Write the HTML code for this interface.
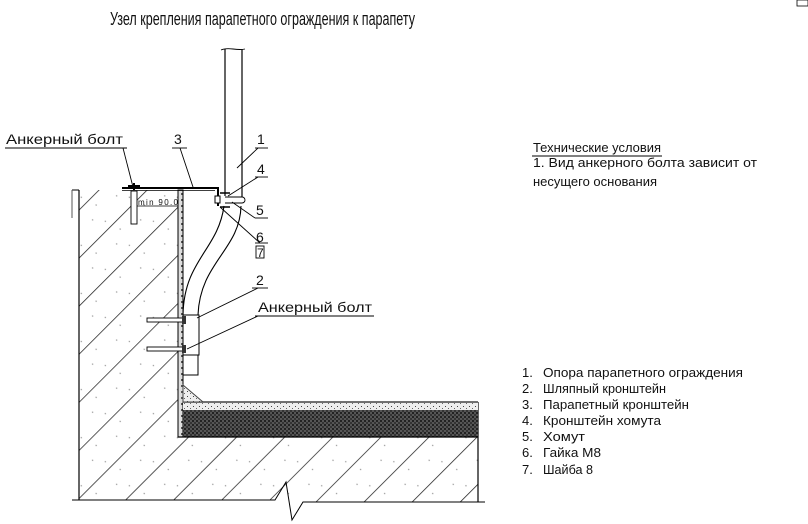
<!DOCTYPE html>
<html><head><meta charset="utf-8"><style>
html,body{margin:0;padding:0;background:#fff;}
svg{display:block;}
text{font-family:"Liberation Sans","DejaVu Sans",sans-serif;fill:#111;}
</style></head><body>
<svg width="808" height="524" viewBox="0 0 808 524" xmlns="http://www.w3.org/2000/svg">
<defs>
<pattern id="hatch" patternUnits="userSpaceOnUse" width="34" height="34" patternTransform="rotate(-45)">
<rect width="34" height="34" fill="#fff"/>
<line x1="0" y1="0" x2="34" y2="0" stroke="#222" stroke-width="1.6"/>
<circle cx="12" cy="17" r="0.7" fill="#999"/><circle cx="25" cy="9" r="0.7" fill="#999"/><circle cx="20" cy="27" r="0.7" fill="#999"/>
</pattern>
<pattern id="dark" patternUnits="userSpaceOnUse" width="4" height="4">
<rect width="4" height="4" fill="#555"/><rect width="2" height="2" fill="#222"/><rect x="2" y="2" width="2" height="2" fill="#333"/>
</pattern>
<pattern id="sand" patternUnits="userSpaceOnUse" width="6" height="5">
<rect width="6" height="5" fill="#eee"/><rect x="1" y="1" width="1" height="1" fill="#444"/><rect x="4" y="3" width="1" height="1" fill="#666"/>
</pattern>
<pattern id="ins" patternUnits="userSpaceOnUse" width="5" height="6">
<rect width="5" height="6" fill="#ddd"/><rect x="1" y="1" width="2" height="2" fill="#555"/>
</pattern>
</defs>

<!-- title -->
<text x="110" y="25" font-size="18" textLength="305" lengthAdjust="spacingAndGlyphs">Узел крепления парапетного ограждения к парапету</text>
<rect x="797" y="0" width="11" height="6" fill="none" stroke="#000" stroke-width="0.8"/>

<!-- concrete mass -->
<path d="M79 190 H178 V437 H478 V502 H303 L285 500 H79 Z" fill="url(#hatch)"/>
<line x1="79" y1="190" x2="79" y2="500" stroke="#000" stroke-width="1.2"/>
<line x1="478" y1="402" x2="478" y2="502" stroke="#000" stroke-width="1.2"/>
<line x1="72" y1="190" x2="79" y2="190" stroke="#000"/>
<line x1="72" y1="190" x2="72" y2="218" stroke="#555"/>
<!-- insulation strip -->
<rect x="178" y="190" width="5" height="247" fill="url(#ins)" stroke="#000" stroke-width="1"/>
<!-- floor layers -->
<rect x="183" y="402" width="295" height="8" fill="url(#sand)"/>
<line x1="183" y1="402" x2="478" y2="402" stroke="#444" stroke-width="1.5"/>
<rect x="183" y="410" width="295" height="27" fill="url(#dark)"/>
<line x1="178" y1="437" x2="478" y2="437" stroke="#000" stroke-width="1.2"/>
<path d="M183 385 L203 402 H183 Z" fill="url(#sand)" stroke="#444" stroke-width="1"/>
<!-- break line -->
<path d="M72 500 H275 L286 482 L292 520 L303 502 H485" fill="none" stroke="#000" stroke-width="1"/>

<!-- pole -->
<path d="M221 50 Q225 48 233 49 T245 49" fill="none" stroke="#000" stroke-width="0.9"/>
<line x1="225" y1="49" x2="225" y2="196" stroke="#000" stroke-width="1.2"/>
<line x1="242" y1="49" x2="242" y2="200" stroke="#000" stroke-width="1.2"/>
<path d="M224 206 C218 250 184 260 183 315" fill="none" stroke="#000" stroke-width="1.1"/>
<path d="M241 206 C240 250 200 262 198 315" fill="none" stroke="#000" stroke-width="1.1"/>
<!-- bracket 2 -->
<rect x="183" y="315" width="16" height="40" fill="#fff" stroke="#000"/>
<rect x="183" y="355" width="15" height="20" fill="#fff" stroke="#000"/>
<!-- wall anchors -->
<rect x="147" y="318" width="38" height="4" fill="#fff" stroke="#000" stroke-width="0.9"/>
<rect x="147" y="347" width="38" height="4" fill="#fff" stroke="#000" stroke-width="0.9"/>
<rect x="182" y="316" width="4" height="8" fill="#333"/>
<rect x="182" y="345" width="4" height="8" fill="#333"/>
<!-- cap plate -->
<path d="M122 188 H218 V206" fill="none" stroke="#000" stroke-width="2"/>
<line x1="122" y1="190.5" x2="215" y2="190.5" stroke="#000" stroke-width="0.8"/>
<!-- top anchor -->
<rect x="131" y="191" width="6" height="33" fill="#fff" stroke="#000" stroke-width="0.9"/>
<rect x="128" y="185" width="12" height="3" fill="#000"/>
<line x1="134" y1="183" x2="134" y2="190" stroke="#000" stroke-width="2"/>
<text x="138" y="205" font-size="8" textLength="40">min 90.0</text>
<line x1="137" y1="206" x2="178" y2="206" stroke="#000" stroke-width="0.7"/>
<!-- clamp -->
<rect x="215" y="196" width="5" height="7" fill="#fff" stroke="#000"/>
<line x1="220" y1="193" x2="230" y2="193" stroke="#000" stroke-width="1.5"/>
<line x1="220" y1="207" x2="230" y2="207" stroke="#000" stroke-width="1.5"/>
<path d="M225 197 H242 a3 3 0 0 1 0 6 H225" fill="#fff" stroke="#000" stroke-width="0.9"/>

<!-- leaders -->
<g stroke="#000" stroke-width="0.9" fill="none">
<line x1="5" y1="148" x2="127" y2="148"/><line x1="123" y1="148" x2="133" y2="187"/>
<line x1="172" y1="148" x2="187" y2="148"/><line x1="180" y1="148" x2="193" y2="187"/>
<line x1="255" y1="148" x2="268" y2="148"/><line x1="258" y1="148" x2="237" y2="168"/>
<line x1="255" y1="177" x2="268" y2="177"/><line x1="258" y1="177" x2="228" y2="196"/>
<line x1="255" y1="218" x2="268" y2="218"/><line x1="255" y1="218" x2="232" y2="202"/>
<line x1="255" y1="243" x2="268" y2="243"/><line x1="260" y1="243" x2="220" y2="207"/>
<line x1="252" y1="288" x2="268" y2="288"/><line x1="258" y1="288" x2="197" y2="318"/>
<line x1="255" y1="316" x2="374" y2="316"/><line x1="258" y1="316" x2="187" y2="349"/>
<rect x="256" y="246" width="8" height="12"/>
</g>
<g font-size="14">
<text x="6" y="144" textLength="117" lengthAdjust="spacingAndGlyphs">Анкерный болт</text>
<text x="174" y="144">3</text>
<text x="257" y="144">1</text>
<text x="257" y="174">4</text>
<text x="256" y="215">5</text>
<text x="256" y="242">6</text>
<text x="257" y="257" font-size="12">7</text>
<text x="256" y="285">2</text>
<text x="258" y="312" textLength="114" lengthAdjust="spacingAndGlyphs">Анкерный болт</text>
</g>

<!-- notes -->
<g font-size="13">
<text x="533" y="152" textLength="128" lengthAdjust="spacingAndGlyphs">Технические условия</text>
<line x1="532" y1="156" x2="662" y2="156" stroke="#000" stroke-width="1"/>
<text x="533" y="167" textLength="224" lengthAdjust="spacingAndGlyphs">1. Вид анкерного болта зависит от</text>
<text x="533" y="186" textLength="124" lengthAdjust="spacingAndGlyphs">несущего основания</text>
<text x="522" y="377">1.</text><text x="543" y="377" textLength="200" lengthAdjust="spacingAndGlyphs">Опора парапетного ограждения</text>
<text x="522" y="393">2.</text><text x="543" y="393" textLength="123" lengthAdjust="spacingAndGlyphs">Шляпный кронштейн</text>
<text x="522" y="409">3.</text><text x="543" y="409" textLength="146" lengthAdjust="spacingAndGlyphs">Парапетный кронштейн</text>
<text x="522" y="425">4.</text><text x="543" y="425" textLength="118" lengthAdjust="spacingAndGlyphs">Кронштейн хомута</text>
<text x="522" y="441">5.</text><text x="543" y="441" textLength="42" lengthAdjust="spacingAndGlyphs">Хомут</text>
<text x="522" y="457">6.</text><text x="543" y="457" textLength="58" lengthAdjust="spacingAndGlyphs">Гайка М8</text>
<text x="522" y="474">7.</text><text x="543" y="474" textLength="50" lengthAdjust="spacingAndGlyphs">Шайба 8</text>
</g>
</svg>
</body></html>
